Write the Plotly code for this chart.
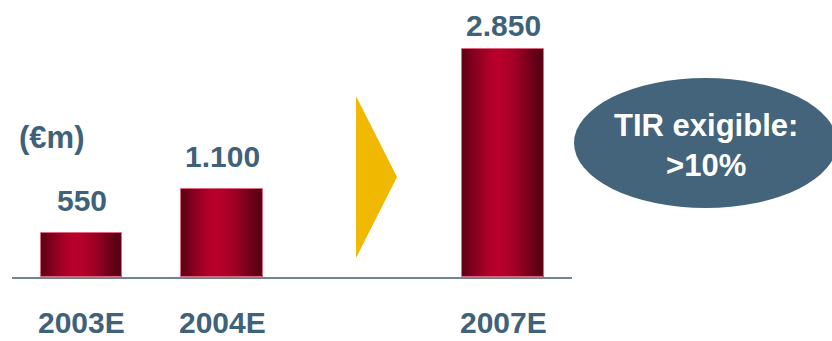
import plotly.graph_objects as go

# Investment (€m) by year
categories = ["2003E", "2004E", "2007E"]
positions = [0, 1, 3]
values = [550, 1100, 2850]
label_shift = [14, 14, 5]

W, H = 832, 341
ML, MR, MT, MB = 12, 260, 0, 64
PW, PH = W - ML - MR, H - MT - MB

TEXT = "#3f6279"
FONT = "Liberation Sans, Arial, sans-serif"
BAR_W = 0.58

# Horizontal shading across each bar (fraction of width -> rgb)
stops = [
    (0.00, (0x5a, 0x00, 0x14)),
    (0.10, (0x78, 0x00, 0x1c)),
    (0.22, (0x9a, 0x00, 0x23)),
    (0.34, (0xb2, 0x00, 0x2a)),
    (0.46, (0xb8, 0x00, 0x2c)),
    (0.60, (0xa8, 0x00, 0x28)),
    (0.74, (0x8c, 0x00, 0x20)),
    (0.86, (0x6c, 0x00, 0x19)),
    (0.94, (0x58, 0x00, 0x13)),
    (1.00, (0x62, 0x00, 0x18)),
]


def shade(t):
    for (t0, c0), (t1, c1) in zip(stops, stops[1:]):
        if t <= t1:
            f = (t - t0) / (t1 - t0)
            return "rgb(%d,%d,%d)" % tuple(round(a + (b - a) * f) for a, b in zip(c0, c1))
    return "rgb(%d,%d,%d)" % stops[-1][1]


def px_x(px):
    return (px - ML) / PW


def px_y(py):
    return (MT + PH - py) / PH


fig = go.Figure()

N = 40
for k in range(N):
    start = k / N
    fig.add_trace(go.Bar(
        x=positions, y=values,
        width=BAR_W * (1 - start),
        offset=-BAR_W / 2 + BAR_W * start,
        marker=dict(color=shade((k + 0.5) / N), line=dict(width=0)),
        hoverinfo="skip", showlegend=False,
    ))

# thin light outline around each bar
fig.add_trace(go.Bar(
    x=positions, y=values, width=BAR_W, offset=-BAR_W / 2,
    marker=dict(color="rgba(0,0,0,0)", line=dict(color="#e0687e", width=1)),
    hoverinfo="skip", showlegend=False,
))

annotations = []
for p, v, s in zip(positions, values, label_shift):
    annotations.append(dict(
        x=p, y=v, xref="x", yref="y", xanchor="center", yanchor="bottom", yshift=s,
        text="<b>%s</b>" % f"{v:,}".replace(",", "."), showarrow=False,
        font=dict(family=FONT, size=30, color=TEXT),
    ))
for p, c in zip(positions, categories):
    annotations.append(dict(
        x=p, y=px_y(322), xref="x", yref="paper", xanchor="center", yanchor="middle",
        text="<b>%s</b>" % c, showarrow=False, borderpad=0,
        font=dict(family=FONT, size=30, color=TEXT),
    ))
annotations.append(dict(
    x=px_x(51), y=px_y(137), xref="paper", yref="paper",
    xanchor="center", yanchor="middle",
    text="<b>(€m)</b>", showarrow=False,
    font=dict(family=FONT, size=31, color=TEXT),
))
annotations.append(dict(
    x=px_x(706), y=px_y(146), xref="paper", yref="paper",
    xanchor="center", yanchor="middle",
    text="<b>TIR exigible:<br>&gt;10%</b>", showarrow=False,
    font=dict(family=FONT, size=31, color="white"),
))

shapes = [
    dict(type="path", xref="paper", yref="paper",
         path="M %f,%f L %f,%f L %f,%f Z" % (px_x(356), px_y(96), px_x(397), px_y(177),
                                            px_x(356), px_y(258)),
         fillcolor="#f0b800", line=dict(width=0), layer="below"),
    dict(type="circle", xref="paper", yref="paper",
         x0=px_x(574), x1=px_x(837), y0=px_y(208), y1=px_y(78),
         fillcolor="#43647a", line=dict(width=0), layer="below"),
]

x_left = -(81.5 - ML) / 140.5
x_right = (ML + PW - 81.5) / 140.5

fig.update_layout(
    width=W, height=H,
    margin=dict(l=ML, r=MR, t=MT, b=MB),
    paper_bgcolor="white", plot_bgcolor="white",
    barmode="overlay", bargap=0,
    showlegend=False,
    xaxis=dict(range=[x_left, x_right], showgrid=False, zeroline=False,
               showticklabels=False, ticks="", showline=True,
               linecolor="#6d8597", linewidth=2, fixedrange=True),
    yaxis=dict(range=[0, PH / 0.08], showgrid=False, zeroline=False,
               showticklabels=False, ticks="", showline=False, fixedrange=True),
    annotations=annotations,
    shapes=shapes,
)

fig.write_html("out.html", config=dict(displayModeBar=False))
